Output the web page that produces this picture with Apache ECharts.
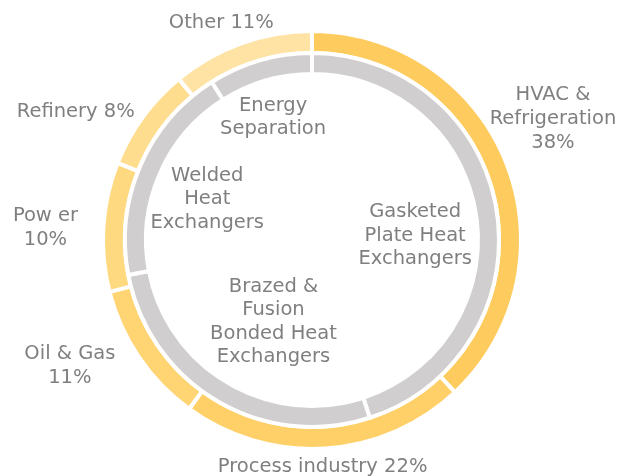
<!DOCTYPE html>
<html>
<head>
<meta charset="utf-8">
<script src="https://cdn.jsdelivr.net/npm/echarts@6/dist/echarts.min.js"></script>
<style>
  html, body { margin: 0; padding: 0; background: #fff; }
  #chart { width: 629px; height: 476px; }
</style>
</head>
<body>
<div id="chart"></div>
<script>
// outer ring: end-use industries (%)
var industryNames = ['HVAC &\nRefrigeration', 'Process industry', 'Oil & Gas', 'Pow er', 'Refinery', 'Other']
var industryValues = [38, 22, 11, 10, 8, 11]
var industryLineBreak = [true, false, true, true, false, false]

// inner ring: product types (share read from the arcs)
var productNames = ['Gasketed\nPlate Heat\nExchangers', 'Brazed &\nFusion\nBonded Heat\nExchangers', 'Welded\nHeat\nExchangers', 'Energy\nSeparation']
var productValues = [45, 27, 19, 9]

var yellows = ['#fecb5e', '#ffd068', '#ffd473', '#fed97f', '#fede8e', '#fee3a5']
var grey = '#d0cece'
var textColor = '#7f7f7f'

// hand placement of the labels, relative to the mid-angle spot
var industryNudge = [[-26, -15], [-4, -6], [-22, -24], [-18, 4], [-18, 31], [-8, 13]]
var productNudge = [[0, 12], [9, 2], [-13, -1], [-3, 1]]

var chart = echarts.init(document.getElementById('chart'))

// put a label just outside (dir 1) or inside (dir -1) the ring, along the slice's mid angle
function placeLabel(params, dir, gap, nudge) {
  var data = chart.getModel().getSeriesByIndex(params.seriesIndex).getData()
  var l = data.getItemLayout(params.dataIndex)
  var mid = (l.startAngle + l.endAngle) / 2
  var dx = Math.cos(mid)
  var dy = Math.sin(mid)
  var w = params.labelRect.width
  var h = params.labelRect.height
  var half = Math.abs(dx) * w / 2 + Math.abs(dy) * h / 2
  var edge = dir > 0 ? l.r : l.r0
  var dist = edge + dir * (gap + half)
  var n = nudge[params.dataIndex] || [0, 0]
  return {
    x: l.cx + dx * dist + n[0],
    y: l.cy + dy * dist + n[1],
    align: 'center',
    verticalAlign: 'middle'
  }
}

chart.setOption({
  animation: false,
  series: [
    {
      name: 'industry',
      type: 'pie',
      silent: true,
      center: ['49.6%', '50.4%'],
      radius: [187, 209],
      startAngle: 90,
      avoidLabelOverlap: false,
      itemStyle: {
        borderColor: '#fff',
        borderWidth: 4
      },
      label: {
        show: true,
        position: 'outside',
        color: textColor,
        fontFamily: 'DejaVu Sans',
        fontSize: 19.5,
        lineHeight: 24,
        formatter: function (p) {
          return p.name + (industryLineBreak[p.dataIndex] ? '\n' : ' ') + p.value + '%'
        }
      },
      labelLine: { show: false },
      labelLayout: function (params) {
        return placeLabel(params, 1, 6, industryNudge)
      },
      data: industryValues.map(function (v, i) {
        return { name: industryNames[i], value: v, itemStyle: { color: yellows[i] } }
      })
    },
    {
      name: 'product',
      type: 'pie',
      silent: true,
      center: ['49.6%', '50.4%'],
      radius: [166, 187],
      startAngle: 90,
      avoidLabelOverlap: false,
      itemStyle: {
        color: grey,
        borderColor: '#fff',
        borderWidth: 4
      },
      label: {
        show: true,
        position: 'inside',
        color: textColor,
        fontFamily: 'DejaVu Sans',
        fontSize: 19.5,
        lineHeight: 23.5,
        formatter: '{b}'
      },
      labelLine: { show: false },
      labelLayout: function (params) {
        return placeLabel(params, -1, 0, productNudge)
      },
      data: productValues.map(function (v, i) {
        return { name: productNames[i], value: v }
      })
    }
  ]
})
</script>
</body>
</html>
